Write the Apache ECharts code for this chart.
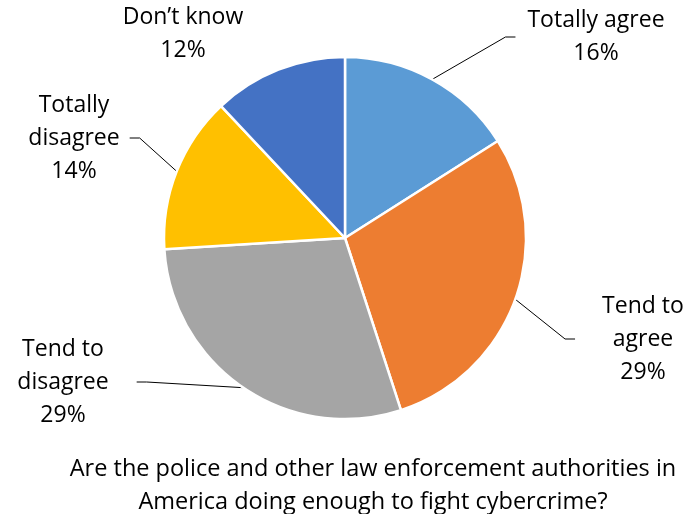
<!DOCTYPE html>
<html>
<head>
<meta charset="utf-8">
<script src="https://cdn.jsdelivr.net/npm/echarts@6/dist/echarts.min.js"></script>
<style>html,body{margin:0;padding:0;background:#fff}#c{width:695px;height:514px}</style>
</head>
<body>
<div id="c"></div>
<script>
const categories = ['Totally agree', 'Tend to agree', 'Tend to disagree', 'Totally disagree', 'Don\u2019t know'];
const labelNames = ['Totally agree', 'Tend to\nagree', 'Tend to\ndisagree', 'Totally\ndisagree', 'Don\u2019t know'];
const values = [16, 29, 29, 14, 12];
const colors = ['#5B9BD5', '#ED7D31', '#A5A5A5', '#FFC000', '#4472C4'];
const titleText = 'Are the police and other law enforcement authorities in\nAmerica doing enough to fight cybercrime?';

// label placement (layout only)
const labelPos = [[596, 37], [643, 339], [63, 382], [74, 138], [183, 34]];
const labelPad = [[0, 12], [0, 28], [0, 28], [0, 10], [0, 0]];

const FONT = 'Open Sans';
const chart = echarts.init(document.getElementById('c'), null, {renderer: 'canvas'});
chart.setOption({
  animation: false,
  backgroundColor: '#fff',
  title: {
    text: titleText,
    left: 368, top: 448, textAlign: 'center',
    textStyle: {fontFamily: FONT, fontSize: 23.5, fontWeight: 'normal', color: '#000', lineHeight: 33, align: 'center'}
  },
  series: [{
    type: 'pie',
    center: [345, 238],
    radius: 181,
    startAngle: 90,
    clockwise: true,
    itemStyle: {borderColor: '#fff', borderWidth: 2.5},
    label: {
      show: true,
      overflow: 'none',
      edgeDistance: 0,
      formatter: p => labelNames[p.dataIndex] + '\n' + p.value + '%',
      fontFamily: FONT, fontSize: 23, color: '#000', lineHeight: 33, align: 'center'
    },
    labelLine: {show: true, length: 20, length2: 10, lineStyle: {color: '#000', width: 1}},
    labelLayout: p => ({x: labelPos[p.dataIndex][0], y: labelPos[p.dataIndex][1], align: 'center', verticalAlign: 'middle'}),
    data: categories.map((c, i) => ({
      name: c, value: values[i], itemStyle: {color: colors[i]},
      label: {padding: labelPad[i]},
      labelLine: {show: i !== 4}
    }))
  }]
});
</script>
</body>
</html>
